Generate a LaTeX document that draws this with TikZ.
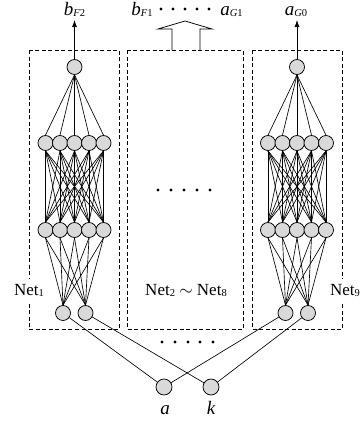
\documentclass[tikz,border=0pt]{standalone}
\usepackage{fontspec}
\setmainfont{Liberation Serif}
\usetikzlibrary{arrows.meta}
\newcommand\mysub[1]{\raisebox{-1.5pt}{\fontsize{10.5}{11}\selectfont #1}}
\newcommand\mynet[2]{%
  \node[neuron] (#1t) at (#2,67) {};
  \foreach \i/\dx in {1/-29,2/-14.5,3/0,4/14.5,5/29} {
    \node[neuron] (#1h\i) at (#2+\dx,143) {};
    \node[neuron] (#1g\i) at (#2+\dx,230) {};
  }
  \node[neuron] (#1i1) at (#2-11.5,313) {};
  \node[neuron] (#1i2) at (#2+11,313) {};
  \foreach \i in {1,...,5} {
    \draw[conn] (#1t.south) -- (#1h\i.north);
    \foreach \j in {1,...,5} {\draw[conn] (#1h\i.south) -- (#1g\j.north);}
    \foreach \j in {1,2} {\draw[conn] (#1g\i.south) -- (#1i\j.north);}
  }
}
\begin{document}
\begin{tikzpicture}[x=1pt,y=-1pt,
  neuron/.style={circle, draw, fill=gray!30, minimum size=15pt, inner sep=0pt, line width=0.75pt},
  conn/.style={line width=0.65pt},
  dashbox/.style={draw, dash pattern=on 4pt off 2.5pt, line width=0.8pt},
  lab/.style={font=\fontsize{17}{20}\selectfont, inner sep=0pt, anchor=base},
  itlab/.style={font=\fontsize{19}{22}\selectfont, inner sep=0pt, anchor=base},
  netlab/.style={font=\fontsize{17}{20}\selectfont, fill=white, inner xsep=1pt, inner ysep=5pt, anchor=base},
  outarrow/.style={line width=0.75pt, -{Latex[length=7pt,width=5pt]}},
  dotmark/.style={fill=black}]
\useasboundingbox (0,0) rectangle (360,421);
% boxes
\draw[dashbox] (29,50) rectangle (119,329);
\draw[dashbox] (127,50) rectangle (243,329);
\draw[dashbox] (252,50) rectangle (342,329);
% networks
\mynet{L}{74.5}
\mynet{R}{297}
% inputs
\node[neuron, minimum size=16pt] (a) at (164,387) {};
\node[neuron, minimum size=16pt] (k) at (211,387) {};
\draw[conn] (Li1) -- (a);
\draw[conn] (Li2) -- (k);
\draw[conn] (Ri1) -- (a);
\draw[conn] (Ri2) -- (k);
\node[itlab] (alab) at (165,414) {\itshape a};
\node[itlab] (klab) at (211,414) {\itshape k};
% outputs
\coordinate (Ltop) at (74.5,20);
\coordinate (Rtop) at (297,20);
\draw[outarrow] (Lt.north) -- (Ltop);
\draw[outarrow] (Rt.north) -- (Rtop);
\node[itlab] (bF2) at (74.5,15) {{\itshape b}\mysub{\itshape F\upshape 2}};
\node[itlab] (bF1) at (142,15) {{\itshape b}\mysub{\itshape F\upshape 1}};
\node[itlab] (aG1) at (231.5,15) {{\itshape a}\mysub{\itshape G\upshape 1}};
\node[itlab] (aG0) at (296,15) {{\itshape a}\mysub{\itshape G\upshape 0}};
% hollow arrow
\draw[line width=0.75pt, line join=miter] (172,50) -- (172,29) -- (158,29) -- (185,21) -- (212,29) -- (200,29) -- (200,50);
% dots
\foreach \x in {161,173,185,197,209} {\fill[dotmark] (\x,9) circle (1.6);}
\foreach \x in {158,171,184,197,210} {\fill[dotmark] (\x,190) circle (1.6);}
\foreach \x in {162,175,188,200,213} {\fill[dotmark] (\x,342) circle (1.6);}
% net labels
\node[netlab] (n1) at (29,295) {Net\mysub{1}};
\node[netlab] (n9) at (345,295) {Net\mysub{9}};
\node[lab] (n28) at (186,295) {Net\mysub{2} $\sim$ Net\mysub{8}};
\end{tikzpicture}
\end{document}
